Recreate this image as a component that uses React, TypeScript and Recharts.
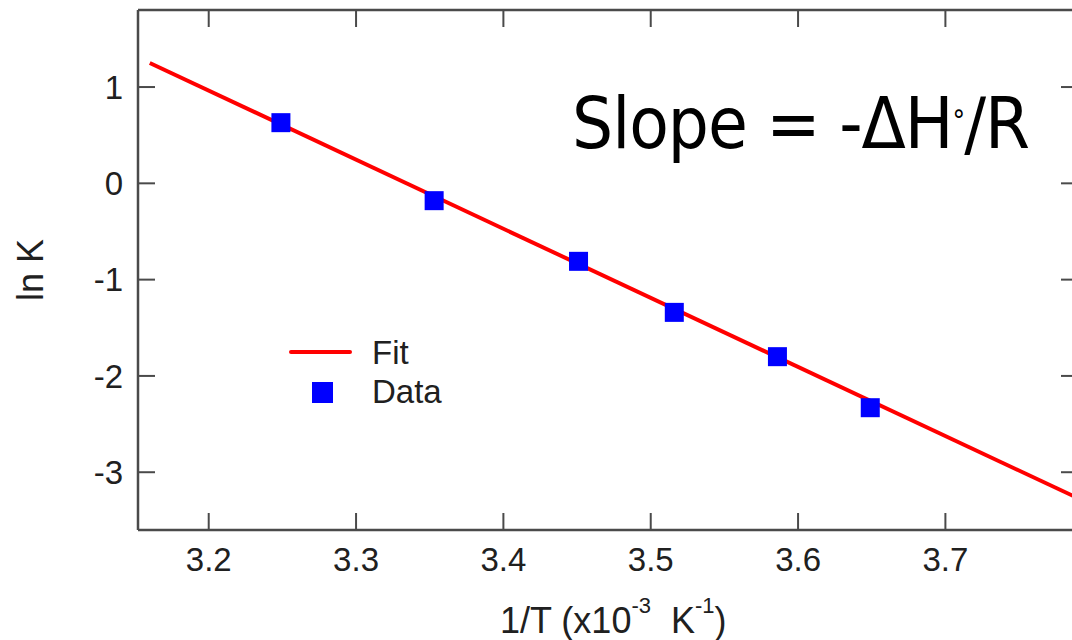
import React from "react";
import {
  ComposedChart,
  XAxis,
  YAxis,
  Line,
  Scatter,
  Legend,
} from "recharts";

// 1/T in units of 1e-3 K^-1, and ln K
const invT = [3.249, 3.353, 3.451, 3.516, 3.586, 3.649];
const lnK = [0.63, -0.18, -0.81, -1.34, -1.8, -2.33];

const fitX = [3.16, 3.79];
const fitY = [1.25, -3.27];

const xTicks = [3.2, 3.3, 3.4, 3.5, 3.6, 3.7];
const yTicks = [-3, -2, -1, 0, 1];

const points = invT.map((x, i) => ({ x, y: lnK[i] }));
const fit = fitX.map((x, i) => ({ x, y: fitY[i] }));

const AXIS = "#4a4a4a";
const INK = "#202020";
const FONT = "'Liberation Sans', Arial, sans-serif";
const TICK_LEN = 17;
const BOTTOM_GAP = 18;
const LEFT_GAP = 15;

function Square(props: any) {
  const { cx, cy } = props;
  if (cx == null || cy == null) return null;
  return <rect x={cx - 9.5} y={cy - 9.5} width={19} height={19} fill="#0000ff" />;
}

// inward tick marks, drawn by hand since a negative tickSize points outward
function BottomTick(props: any) {
  const { x, y, payload } = props;
  const base = y - BOTTOM_GAP;
  return (
    <g>
      <line x1={x} x2={x} y1={base} y2={base - TICK_LEN} stroke={AXIS} strokeWidth={2} />
      <text x={x} y={y} dy="0.71em" textAnchor="middle" fill={INK} fontSize={33} fontFamily={FONT}>
        {Number(payload.value).toFixed(1)}
      </text>
    </g>
  );
}

function LeftTick(props: any) {
  const { x, y, payload } = props;
  const base = x + LEFT_GAP;
  return (
    <g>
      <line x1={base} x2={base + TICK_LEN} y1={y} y2={y} stroke={AXIS} strokeWidth={2} />
      <text x={x} y={y} dy="0.355em" textAnchor="end" fill={INK} fontSize={33} fontFamily={FONT}>
        {payload.value}
      </text>
    </g>
  );
}

function TopTick(props: any) {
  const { x, y } = props;
  return <line x1={x} x2={x} y1={y} y2={y + TICK_LEN} stroke={AXIS} strokeWidth={2} />;
}

function RightTick(props: any) {
  const { x, y } = props;
  return <line x1={x} x2={x - TICK_LEN} y1={y} y2={y} stroke={AXIS} strokeWidth={2} />;
}

function LegendBox() {
  const text: React.CSSProperties = {
    position: "absolute",
    left: 92,
    fontFamily: FONT,
    fontSize: 33,
    lineHeight: "33px",
    color: INK,
    whiteSpace: "nowrap",
  };
  return (
    <div style={{ position: "relative", width: 200, height: 90 }}>
      <div style={{ position: "absolute", left: 9, top: 20, width: 63, height: 4, background: "#ff0000", borderRadius: 2 }} />
      <div style={{ ...text, top: 6 }}>Fit</div>
      <div style={{ position: "absolute", left: 32, top: 52, width: 21, height: 21, background: "#0000ff" }} />
      <div style={{ ...text, top: 45 }}>Data</div>
    </div>
  );
}

export default function App() {
  return (
    <div style={{ position: "absolute", left: 0, top: 0, width: 1072, height: 640, overflow: "hidden", background: "#fff" }}>
      <ComposedChart width={1100} height={640} margin={{ top: 0, right: 12, bottom: 0, left: 60 }}>
        <XAxis
          xAxisId="b"
          dataKey="x"
          type="number"
          orientation="bottom"
          domain={[3.152, 3.79]}
          allowDataOverflow
          ticks={xTicks}
          height={110}
          tickSize={0}
          tickLine={false}
          tickMargin={BOTTOM_GAP}
          tick={<BottomTick />}
          stroke={AXIS}
          strokeWidth={2.5}
        />
        <XAxis
          xAxisId="t"
          dataKey="x"
          type="number"
          orientation="top"
          domain={[3.152, 3.79]}
          allowDataOverflow
          ticks={xTicks}
          height={10}
          tickSize={0}
          tickMargin={0}
          tickLine={false}
          tick={<TopTick />}
          stroke={AXIS}
          strokeWidth={2.5}
        />
        <YAxis
          yAxisId="l"
          dataKey="y"
          type="number"
          orientation="left"
          domain={[-3.6, 1.8]}
          allowDataOverflow
          ticks={yTicks}
          width={78}
          tickSize={0}
          tickLine={false}
          tickMargin={LEFT_GAP}
          tick={<LeftTick />}
          stroke={AXIS}
          strokeWidth={2.5}
        />
        <YAxis
          yAxisId="r"
          dataKey="y"
          type="number"
          orientation="right"
          domain={[-3.6, 1.8]}
          allowDataOverflow
          ticks={yTicks}
          width={10}
          tickSize={0}
          tickMargin={0}
          tickLine={false}
          tick={<RightTick />}
          stroke={AXIS}
          strokeWidth={2.5}
        />
        <Line
          xAxisId="b"
          yAxisId="l"
          data={fit}
          dataKey="y"
          type="linear"
          stroke="#ff0000"
          strokeWidth={4}
          dot={false}
          activeDot={false}
          isAnimationActive={false}
        />
        <Scatter
          xAxisId="b"
          yAxisId="l"
          data={points}
          dataKey="y"
          shape={<Square />}
          isAnimationActive={false}
        />
        <Legend
          layout="vertical"
          align="center"
          verticalAlign="middle"
          content={() => <LegendBox />}
          wrapperStyle={{ left: 280, top: 330, width: 200, height: 90 }}
        />
      </ComposedChart>

      <div
        style={{
          position: "absolute",
          left: 572,
          top: 87,
          fontFamily: "'DejaVu Sans Condensed', 'DejaVu Sans', sans-serif",
          fontSize: 72,
          lineHeight: "72px",
          letterSpacing: -1,
          color: "#000",
          whiteSpace: "nowrap",
        }}
      >
        Slope = -ΔH
        <span style={{ fontSize: 28, position: "relative", top: -18 }}>°</span>/R
      </div>

      <div
        style={{
          position: "absolute",
          left: 30.5 - 60,
          top: 270 - 18,
          width: 120,
          textAlign: "center",
          fontFamily: FONT,
          fontSize: 36,
          lineHeight: "36px",
          color: INK,
          transform: "rotate(-90deg)",
          whiteSpace: "nowrap",
        }}
      >
        ln K
      </div>

      <div
        style={{
          position: "absolute",
          left: 500,
          top: 603,
          fontFamily: FONT,
          fontSize: 36,
          lineHeight: "36px",
          color: INK,
          whiteSpace: "nowrap",
        }}
      >
        1/T (x10
        <span style={{ fontSize: 22, position: "relative", top: -20 }}>-3</span>
        {"\u00a0 "}K
        <span style={{ fontSize: 22, position: "relative", top: -20 }}>-1</span>)
      </div>
    </div>
  );
}
